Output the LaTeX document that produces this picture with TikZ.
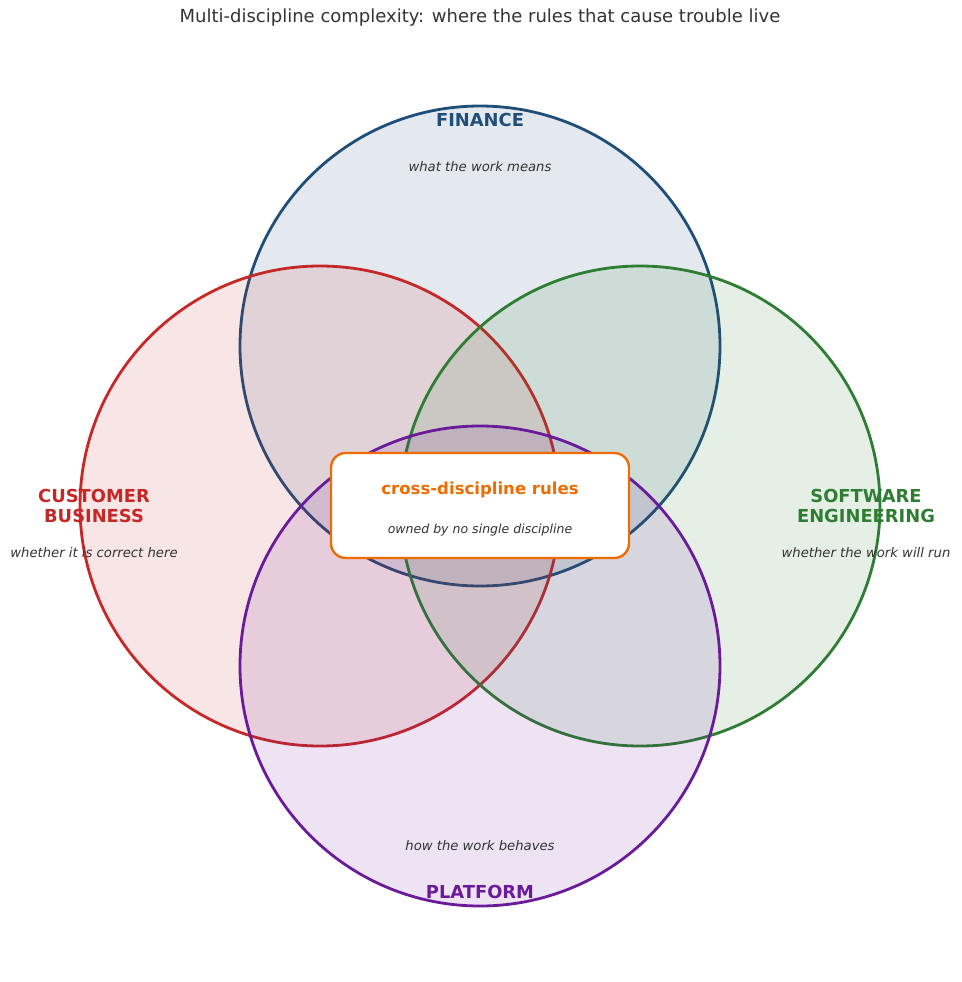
\documentclass[tikz,border=0pt]{standalone}
\usepackage{fontspec}
\setmainfont{DejaVu Sans}
\usetikzlibrary{positioning}
\definecolor{finblue}{HTML}{1F4E79}
\definecolor{custred}{HTML}{C62828}
\definecolor{softgreen}{HTML}{2E7D32}
\definecolor{platpurple}{HTML}{6A1B9A}
\definecolor{rulesorange}{HTML}{EF6C00}
\definecolor{txtgray}{HTML}{333333}
\tikzset{
    disc/.style={line width=2.1pt, draw=#1, fill=#1, fill opacity=0.12, draw opacity=1},
    head/.style={font=\bfseries\fontsize{13.4}{15}\selectfont, text=#1, align=center},
    note/.style={font=\itshape\fontsize{9.9}{12}\selectfont, text=txtgray}
}
\begin{document}
\begin{tikzpicture}[x=0.75pt,y=-0.75pt]
    \useasboundingbox (0,0) rectangle (961,982);
    \node[font=\fontsize{13.5}{15}\selectfont, text=txtgray] (title) at (480,18) {Multi-discipline complexity: where the rules that cause trouble live};
    % the four circles
    \draw[disc=finblue] (480,346) circle (240);
    \draw[disc=custred] (320,506) circle (240);
    \draw[disc=softgreen] (640,506) circle (240);
    \draw[disc=platpurple] (480,666) circle (240);
    % labels
    \node[head=finblue] (fin) at (480,120) {FINANCE};
    \node[note] (finnote) at (480,167) {what the work means};
    \node[head=custred] (cust) at (94,506) {CUSTOMER\\BUSINESS};
    \node[note] (custnote) at (94,553) {whether it is correct here};
    \node[head=softgreen] (soft) at (866,506) {SOFTWARE\\ENGINEERING};
    \node[note] (softnote) at (866,553) {whether the work will run};
    \node[head=platpurple] (plat) at (480,892) {PLATFORM};
    \node[note] (platnote) at (480,846) {how the work behaves};
    % centre box
    \draw[line width=1.8pt, draw=rulesorange, fill=white, rounded corners=11pt] (331,453) rectangle (629,558);
    \node[head=rulesorange, font=\bfseries\fontsize{12.4}{14}\selectfont] (rules) at (480,490) {cross-discipline rules};
    \node[note, font=\itshape\fontsize{9.4}{11}\selectfont] (rulesnote) at (480,530) {owned by no single discipline};
\end{tikzpicture}
\end{document}
